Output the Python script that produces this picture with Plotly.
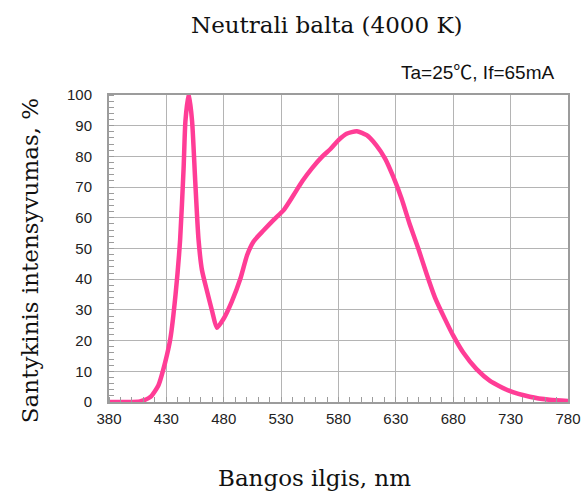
import plotly.graph_objects as go

wavelength_nm = [380, 395, 407, 416, 423, 429, 433.5, 438, 442, 445, 446.6, 449.5,
                 452.4, 455, 458, 461, 465.5, 470, 474, 480, 487, 494.6, 500.4,
                 506, 515, 523.7, 532.4, 541, 548.4, 557, 566, 573, 580, 587, 596,
                 604.6, 613, 620.6, 627.8, 635, 642, 649.6, 656.8, 664, 672.8, 680,
                 688.7, 700.3, 712, 729, 746.7, 764, 780]
intensity_pct = [0, 0, 0.2, 1.6, 5.4, 13, 20.7, 35, 53, 76, 91.5, 100.5,
                 91.5, 73, 53, 43, 36, 29.4, 24.2, 27.2, 32.7, 40.3, 47.9,
                 52.3, 56, 59.4, 62.6, 67.5, 71.9, 76.2, 80, 82.4, 85.3, 87.4, 88.2,
                 86.9, 83.6, 79.3, 73.3, 66.2, 58, 49.9, 41.7, 34.1, 27, 21.6,
                 16.1, 10.7, 6.9, 3.6, 1.7, 0.7, 0.3]

x_ticks = [380, 430, 480, 530, 580, 630, 680, 730, 780]
y_ticks = [0, 10, 20, 30, 40, 50, 60, 70, 80, 90, 100]

title_text = "Neutrali balta (4000 K)"
x_title = "Bangos ilgis, nm"
y_title = "Santykinis intensyvumas, %"
condition_text = "Ta=25\u2103, If=65mA"

fig = go.Figure()
fig.add_trace(go.Scatter(
    x=wavelength_nm, y=intensity_pct, mode="lines",
    line=dict(color="#ff3d96", width=4.5, shape="spline", smoothing=0.6),
    hoverinfo="skip", showlegend=False))

serif = "'DejaVu Serif', serif"
sans = "'Liberation Sans', Arial, 'Noto Sans CJK SC', sans-serif"
serif_size = 23

fig.update_layout(
    width=583, height=495,
    margin=dict(l=109, r=15, t=95, b=93, autoexpand=False),
    paper_bgcolor="white", plot_bgcolor="white",
    annotations=[
        dict(text=title_text, xref="paper", yref="paper", x=0.475, y=1.228,
             xanchor="center", yanchor="middle", showarrow=False,
             font=dict(family=serif, size=serif_size, color="#111")),
        dict(text=condition_text, xref="paper", yref="paper", x=0.974, y=1.072,
             xanchor="right", yanchor="middle", showarrow=False,
             font=dict(family=sans, size=19, color="#111")),
        dict(text=x_title, xref="paper", yref="paper", x=0.447, y=-0.2476,
             xanchor="center", yanchor="middle", showarrow=False,
             font=dict(family=serif, size=serif_size, color="#111")),
        dict(text=y_title, xref="paper", yref="paper", x=-0.172, y=0.459,
             xanchor="center", yanchor="middle", showarrow=False, textangle=-90,
             font=dict(family=serif, size=serif_size, color="#111")),
    ],
)

fig.update_xaxes(
    range=[380, 780], tickvals=x_ticks, ticktext=[str(v) for v in x_ticks],
    automargin=False,
    showgrid=True, gridcolor="#b4b4b4", gridwidth=1.3,
    showline=True, linecolor="#9c9c9c", linewidth=2, mirror=True,
    ticks="", ticklabelstandoff=2, tickfont=dict(family=sans, size=15, color="#222"),
    minor=dict(dtick=10, tick0=380, ticks="inside", ticklen=5, tickcolor="#9c9c9c", tickwidth=1, showgrid=False),
    zeroline=False,
)
fig.update_yaxes(
    range=[0, 100], tickvals=y_ticks, ticktext=[str(v) for v in y_ticks],
    automargin=False,
    showgrid=True, gridcolor="#b4b4b4", gridwidth=1.3,
    showline=True, linecolor="#9c9c9c", linewidth=2, mirror=True,
    ticks="", ticklabelstandoff=12, tickfont=dict(family=sans, size=15, color="#222"),
    minor=dict(dtick=2, tick0=0, ticks="inside", ticklen=5, tickcolor="#9c9c9c", tickwidth=1, showgrid=False),
    zeroline=False,
)

fig.write_html("out.html", config={"displayModeBar": False},
               post_script="document.body.style.margin='0';")
